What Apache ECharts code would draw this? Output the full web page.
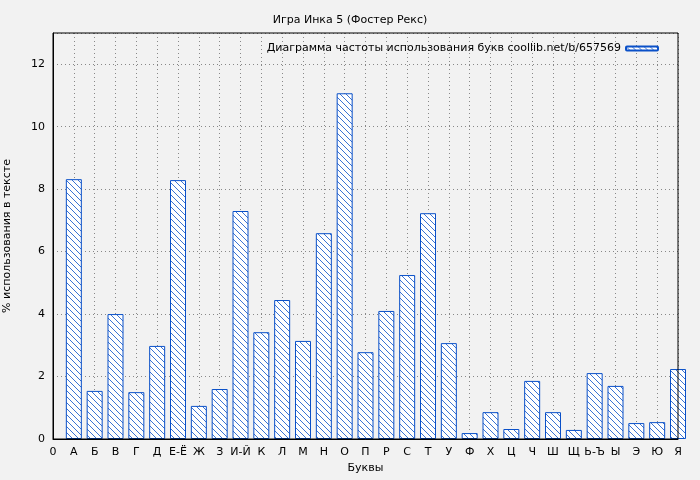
<!DOCTYPE html>
<html><head><meta charset="utf-8">
<script src="https://cdn.jsdelivr.net/npm/echarts@6/dist/echarts.min.js"></script>
<style>html,body{margin:0;background:#f2f2f2}#c{width:700px;height:480px}</style>
</head><body><div id="c"></div>
<script>
const letters = ['А','Б','В','Г','Д','Е-Ё','Ж','З','И-Й','К','Л','М','Н','О','П','Р','С','Т','У','Ф','Х','Ц','Ч','Ш','Щ','Ь-Ъ','Ы','Э','Ю','Я'];
const values = [8.32,1.54,4.0,1.5,2.98,8.29,1.06,1.6,7.3,3.42,4.45,3.14,6.59,11.07,2.78,4.1,5.25,7.23,3.07,0.19,0.86,0.32,1.86,0.86,0.29,2.11,1.7,0.51,0.54,2.24];
const blue = '#0a50c8';

// hatch pattern
const pc = document.createElement('canvas');
pc.width = 6; pc.height = 6;
const g = pc.getContext('2d');
g.fillStyle = '#fff'; g.fillRect(0, 0, 6, 6);
g.strokeStyle = blue; g.lineWidth = 0.8;
g.beginPath();
g.moveTo(0, 0); g.lineTo(6, 6);
g.moveTo(-3, 3); g.lineTo(3, 9);
g.moveTo(3, -3); g.lineTo(9, 3);
g.stroke();

const chart = echarts.init(document.getElementById('c'));
chart.setOption({
  backgroundColor: '#f2f2f2',
  animation: false,
  title: { text: 'Игра Инка 5 (Фостер Рекс)', left: 'center', top: 10,
    textStyle: { fontSize: 11, fontWeight: 'normal', color: '#000', fontFamily: 'DejaVu Sans' } },
  legend: { top: 38, right: 36, itemWidth: 32, itemHeight: 4, align: 'right',
    textStyle: { fontSize: 11, color: '#000', fontFamily: 'DejaVu Sans' } },
  grid: { left: 53, right: 22, top: 33, bottom: 41, outerBoundsMode: 'none', containLabel: false },
  xAxis: { type: 'value', min: 0, max: 30, interval: 1, name: 'Буквы', nameLocation: 'middle', nameGap: 24,
    nameTextStyle: { fontSize: 11, color: '#000', fontFamily: 'DejaVu Sans' },
    axisLine: { lineStyle: { color: '#000' } }, axisTick: { show: false },
    axisLabel: { color: '#000', fontSize: 11, fontFamily: 'DejaVu Sans',
      formatter: v => v === 0 ? '0' : (letters[v - 1] || '') },
    splitLine: { show: true, lineStyle: { color: '#888', type: [1, 3] } } },
  yAxis: { type: 'value', min: 0, max: 13, interval: 2, name: '% использования в тексте', nameLocation: 'middle', nameGap: 40,
    nameTextStyle: { fontSize: 11, color: '#000', fontFamily: 'DejaVu Sans' },
    axisLine: { show: true, lineStyle: { color: '#000' } }, axisTick: { show: false },
    axisLabel: { color: '#000', fontSize: 11, fontFamily: 'DejaVu Sans', showMaxLabel: false },
    splitLine: { show: true, lineStyle: { color: '#888', type: [1, 3] } } },
  series: [{
    type: 'bar', name: 'Диаграмма частоты использования букв coollib.net/b/657569',
    barWidth: 16, clip: true,
    data: values.map((v, i) => [i + 1, v]),
    itemStyle: { color: { image: pc, repeat: 'repeat' }, borderColor: blue, borderWidth: 1 }
  }],
  graphic: [{ type: 'rect', shape: { x: 53, y: 33, width: 625, height: 406 },
    style: { fill: null, stroke: '#000', lineWidth: 1 }, silent: true, z: 100 }]
});
</script></body></html>
